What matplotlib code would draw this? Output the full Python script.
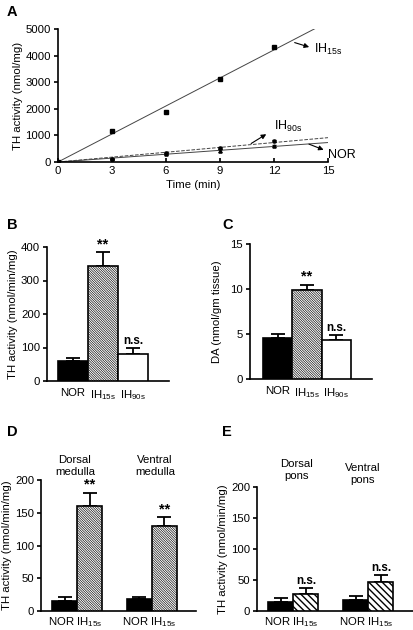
import numpy as np
import matplotlib.pyplot as plt

plt.rcParams['font.family'] = ['Liberation Sans', 'DejaVu Sans']
plt.rcParams['font.size'] = 8.2
plt.rcParams['mathtext.fontset'] = 'custom'
plt.rcParams['mathtext.rm'] = 'Liberation Sans'
plt.rcParams['mathtext.it'] = 'Liberation Sans'
plt.rcParams['hatch.linewidth'] = 0.5

# panel A: time course
time_min = [0, 3, 6, 9, 12]
th_ih15 = [0, 1180, 1880, 3130, 4320]
th_ih90 = [0, 120, 330, 530, 780]
th_nor = [0, 100, 300, 430, 600]
err_ih90 = [0, 20, 30, 40, 30]
err_nor = [0, 30, 30, 60, 40]

IH15 = r'IH$_{\mathrm{15s}}$'
IH90 = r'IH$_{\mathrm{90s}}$'

# panel B: carotid body TH activity
b_groups = ['NOR', IH15, IH90]
b_vals = [60, 342, 80]
b_err = [10, 42, 18]
b_sig = ['', '**', 'n.s.']

# panel C: dopamine
c_vals = [4.6, 9.9, 4.3]
c_err = [0.4, 0.6, 0.6]
c_sig = ['', '**', 'n.s.']

# panel D: medulla
d_regions = ['Dorsal\nmedulla', 'Ventral\nmedulla']
d_nor = [16, 18]
d_nor_err = [5, 3]
d_ih = [160, 130]
d_ih_err = [20, 13]
d_sig = ['**', '**']

# panel E: pons
e_regions = ['Dorsal\npons', 'Ventral\npons']
e_nor = [15, 17]
e_nor_err = [6, 8]
e_ih = [28, 46]
e_ih_err = [9, 12]
e_sig = ['n.s.', 'n.s.']

W, H = 414, 630
fig = plt.figure(figsize=(W / 100, H / 100), dpi=100)


def add_ax(x0, x1, y0, y1):
    # pixel box (from top-left) -> figure axes
    ax = fig.add_axes([x0 / W, 1 - y1 / H, (x1 - x0) / W, (y1 - y0) / H])
    ax.spines['top'].set_visible(False)
    ax.spines['right'].set_visible(False)
    for s in ax.spines.values():
        s.set_linewidth(1.2)
    return ax


def letter(x, y, s):
    fig.text(x / W, 1 - y / H, s, fontsize=10.5, fontweight='bold', va='center', ha='left')


def sig_text(ax, x, y, s):
    size = 10.5 if s == '**' else 8.5
    ax.text(x, y, s, ha='center', va='bottom', fontweight='bold', fontsize=size)


def bar_style(ax):
    ax.tick_params(axis='x', length=0, pad=5)
    ax.tick_params(axis='y', direction='out', length=3, width=1.2, pad=2)


def hbar(ax, x, v, e, color, hatch=None, hlw=0.5, err_lw=1.3):
    x = np.atleast_1d(x)
    v = np.atleast_1d(v)
    e = np.atleast_1d(e)
    b = ax.bar(x, v, width=1, color=color, edgecolor='black', linewidth=1.2,
               hatch=hatch, zorder=3)
    if hatch is not None and hasattr(b[0], 'set_hatch_linewidth'):
        for p in b:
            p.set_hatch_linewidth(hlw)
    ax.errorbar(x, v, yerr=[np.zeros(len(v)), e], fmt='none',
                ecolor='black', elinewidth=err_lw, capsize=5, capthick=err_lw, zorder=2)


# ---- A
axA = add_ax(58, 328, 29, 162)
t = np.array(time_min)
fit_x = np.array([0, 15])
for y, ls in [(th_ih15, '-'), (th_ih90, '--'), (th_nor, '-')]:
    k = np.sum(t * np.array(y)) / np.sum(t * t)
    axA.plot(fit_x, k * fit_x, color='#444444', lw=0.7, ls=ls)
axA.plot(time_min, th_ih15, 's', color='black', ms=3)
axA.errorbar(time_min, th_ih90, yerr=err_ih90, fmt='o', color='black', ms=2.2,
             elinewidth=0.7, capsize=1.5)
axA.errorbar(time_min, th_nor, yerr=err_nor, fmt='^', color='black', ms=2.2,
             elinewidth=0.7, capsize=1.5)
axA.set_xlim(0, 15)
axA.set_ylim(0, 5000)
axA.set_xticks([0, 3, 6, 9, 12, 15])
axA.set_yticks([0, 1000, 2000, 3000, 4000, 5000])
axA.tick_params(axis='x', direction='in', length=3, width=1.2, pad=3)
axA.tick_params(axis='y', direction='out', length=3, width=1.2, pad=2)
axA.set_xlabel('Time (min)', labelpad=3)
axA.set_ylabel('TH activity (nmol/mg)', labelpad=2)
arrow = dict(arrowstyle='-|>', color='black', lw=0.8, mutation_scale=7)
axA.annotate('', xy=(14.1, 4290), xytext=(13.0, 4520), arrowprops=arrow)
axA.text(14.2, 4250, IH15, va='center', ha='left', fontsize=9)
axA.annotate('', xy=(11.7, 1100), xytext=(10.6, 640), arrowprops=arrow)
axA.text(12.0, 1330, IH90, va='center', ha='left', fontsize=9)
axA.annotate('', xy=(14.9, 420), xytext=(13.8, 710), arrowprops=arrow)
axA.text(15.0, 250, 'NOR', va='center', ha='left', fontsize=9, clip_on=False)
letter(7, 12, 'A')

# ---- B
axB = add_ax(47, 169, 247, 381)
fills = ['black', 'white', 'white']
dense = '\\' * 14
hatches = [None, dense, None]
for i in range(3):
    hbar(axB, i, b_vals[i], b_err[i], fills[i], hatches[i], 0.45)
    if b_sig[i]:
        sig_text(axB, i, b_vals[i] + b_err[i] + 4, b_sig[i])
axB.set_xlim(-0.87, 3.2)
axB.set_ylim(0, 400)
axB.set_yticks([0, 100, 200, 300, 400])
axB.set_xticks([0, 1, 2])
axB.set_xticklabels(b_groups)
bar_style(axB)
axB.set_ylabel('TH activity (nmol/min/mg)', labelpad=2)
letter(7, 225, 'B')

# ---- C
axC = add_ax(250, 372, 244, 379)
for i in range(3):
    hbar(axC, i, c_vals[i], c_err[i], fills[i], hatches[i], 0.45)
    if c_sig[i]:
        sig_text(axC, i, c_vals[i] + c_err[i] + 0.15, c_sig[i])
axC.set_xlim(-0.94, 3.22)
axC.set_ylim(0, 15)
axC.set_yticks([0, 5, 10, 15])
axC.set_xticks([0, 1, 2])
axC.set_xticklabels(b_groups)
bar_style(axC)
axC.set_ylabel('DA (nmol/gm tissue)', labelpad=6)
letter(222, 225, 'C')


def region_panel(ax, nor, nor_err, ih, ih_err, sig, hatch, hlw, step):
    pos = np.array([0, 3])
    hbar(ax, pos, nor, nor_err, 'black')
    hbar(ax, pos + 1, ih, ih_err, 'white', hatch, hlw)
    for j in range(2):
        sig_text(ax, pos[j] + 1, ih[j] + ih_err[j] + step, sig[j])
    ax.set_xlim(-0.96, 5.28)
    ax.set_ylim(0, 200)
    ax.set_yticks([0, 50, 100, 150, 200])
    ax.set_xticks(pos + 0.4)
    ax.set_xticklabels(['NOR ' + IH15] * 2)
    ax.tick_params(axis='x', length=0, pad=3)
    ax.tick_params(axis='y', direction='out', length=3, width=1.2, pad=2)
    ax.set_ylabel('TH activity (nmol/min/mg)', labelpad=2)


# ---- D
axD = add_ax(41, 196, 480, 611)
region_panel(axD, d_nor, d_nor_err, d_ih, d_ih_err, d_sig, dense, 0.45, 2)
for x, y, s in [(75, 466, d_regions[0]), (155, 466, d_regions[1])]:
    fig.text(x / W, 1 - y / H, s, ha='center', va='center', fontsize=8.2, linespacing=1.3)
letter(7, 432, 'D')

# ---- E
axE = add_ax(257, 413, 487, 611)
region_panel(axE, e_nor, e_nor_err, e_ih, e_ih_err, e_sig, '\\' * 5, 1.0, 2)
for x, y, s in [(297, 470, e_regions[0]), (363, 474, e_regions[1])]:
    fig.text(x / W, 1 - y / H, s, ha='center', va='center', fontsize=8.2, linespacing=1.3)
letter(222, 432, 'E')

fig.savefig('out.png', dpi=100)
